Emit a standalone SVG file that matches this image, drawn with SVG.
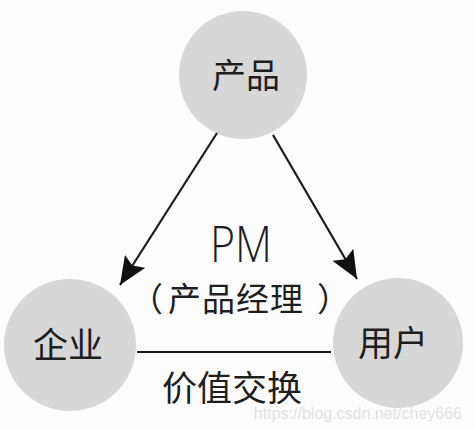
<svg xmlns="http://www.w3.org/2000/svg" width="475" height="429" viewBox="0 0 475 429">
<style>
.node circle{fill:#d7d7d7;}
.lbl{font-family:"Noto Sans CJK SC","Noto Sans",sans-serif;fill:#1e1e1e;text-anchor:middle;}
.conn line{stroke:#1a1a1a;stroke-width:2.2;}
</style>
<defs>
<marker id="arrB" viewBox="0 0 28 24" refX="28" refY="12" markerWidth="28" markerHeight="24" markerUnits="userSpaceOnUse" orient="auto">
<path d="M0,0 L28,12 L0,24 L5,12 z" fill="#111"/>
</marker>
</defs>
<rect width="475" height="429" fill="#fdfdfd"/>
<g id="node-product" class="node">
<circle cx="243" cy="75" r="64"/>
<text class="lbl" x="246" y="88" font-size="34">产品</text>
</g>
<g id="node-enterprise" class="node">
<circle cx="70" cy="345" r="66"/>
<text class="lbl" x="68" y="358" font-size="35">企业</text>
</g>
<g id="node-user" class="node">
<circle cx="398" cy="343" r="65"/>
<text class="lbl" x="393" y="356" font-size="35">用户</text>
</g>
<g id="connectors" class="conn">
<line x1="217" y1="133" x2="120" y2="285" marker-end="url(#arrB)"/>
<line x1="273" y1="135" x2="357" y2="279" marker-end="url(#arrB)"/>
<line x1="137" y1="352" x2="331" y2="352"/>
</g>
<g id="labels">
<text class="lbl" x="241" y="262" font-size="50" font-weight="300" textLength="62" lengthAdjust="spacingAndGlyphs" style="font-family:'Open Sans','Noto Sans',sans-serif">PM</text>
<text class="lbl" y="311" font-size="33" style="text-anchor:start"><tspan x="130">（</tspan><tspan x="168" letter-spacing="1">产品经理</tspan><tspan x="317">）</tspan></text>
<text class="lbl" x="232" y="401" font-size="35">价值交换</text>
</g>
<text x="462" y="419" font-family="'Liberation Sans',Arial,sans-serif" font-size="16" fill="#e2e2e2" text-anchor="end">https://blog.csdn.net/chey666</text>
</svg>
